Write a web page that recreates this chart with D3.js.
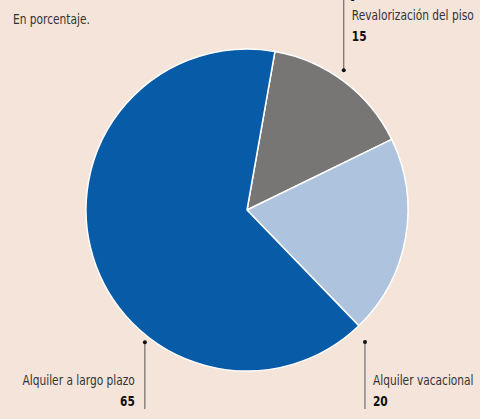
<!DOCTYPE html>
<html>
<head>
<meta charset="utf-8">
<script src="https://cdn.jsdelivr.net/npm/d3@7"></script>
<style>
  html, body { margin: 0; padding: 0; background: #f4e4da; }
  svg { display: block; }
  text { font-family: "DejaVu Sans", sans-serif; }
</style>
</head>
<body>
<div id="chart"></div>
<script>
var categories = ["Revalorización del piso", "Alquiler vacacional", "Alquiler a largo plazo"];
var values = [15, 20, 65];
var colors = ["#777674", "#aec3dd", "#075ba7"];

var width = 480, height = 419;
var cx = 247, cy = 210, radius = 161;
var squeeze = 0.76; // no condensed font installed, so narrow the glyphs

var svg = d3.select("#chart")
  .append("svg")
  .attr("width", width)
  .attr("height", height);

function addText(parent, x, y, str, size, weight, fill, anchor) {
  return parent.append("text")
    .attr("transform", "translate(" + x + "," + y + ") scale(" + squeeze + ",1)")
    .style("font-size", size + "px")
    .style("font-weight", weight)
    .style("fill", fill)
    .style("text-anchor", anchor)
    .text(str);
}

// title, cut off at the top of the picture
addText(svg, 12, -2, "DE DÓNDE SALE LA RENTABILIDAD QUE SE ESPERA", 22, "bold", "#111", "start");
addText(svg, 13, 24, "En porcentaje.", 14, "normal", "#333", "start");

var pie = d3.pie()
  .sort(null)
  .startAngle(10 * Math.PI / 180)
  .endAngle(370 * Math.PI / 180);

var arc = d3.arc().innerRadius(0).outerRadius(radius);

var g = svg.append("g")
  .attr("transform", "translate(" + cx + "," + cy + ")");

g.selectAll("path")
  .data(pie(values))
  .enter()
  .append("path")
  .attr("d", arc)
  .style("fill", function(d, i) { return colors[i]; })
  .style("stroke", "#ffffff")
  .style("stroke-width", 1.5);

// label layout: angle of the dot (deg), dot distance, line end, text side
var labelLayout = [
  {angle: 34.7, r: 170, lineTo: -210, side: "right"},
  {angle: 138.2, r: 177, lineTo: 199, side: "right"},
  {angle: 217.7, r: 167, lineTo: 199, side: "left"}
];

labelLayout.forEach(function(l, i) {
  var p = d3.pointRadial(l.angle * Math.PI / 180, l.r);
  var x = p[0], y = p[1];

  g.append("line")
    .attr("x1", x).attr("y1", y)
    .attr("x2", x).attr("y2", l.lineTo)
    .style("stroke", "#555")
    .style("stroke-width", 1);

  g.append("circle")
    .attr("cx", x).attr("cy", y)
    .attr("r", 2)
    .style("fill", "#111");

  var tx, anchor, ty;
  if (l.side == "right") { tx = x + 8; anchor = "start"; }
  else { tx = x - 10; anchor = "end"; }
  if (l.lineTo < 0) { ty = -190; } else { ty = 175; }

  addText(g, tx, ty, categories[i], 14, "normal", "#333", anchor);
  addText(g, tx, ty + 21, values[i], 14, "bold", "#111", anchor);
});
</script>
</body>
</html>
